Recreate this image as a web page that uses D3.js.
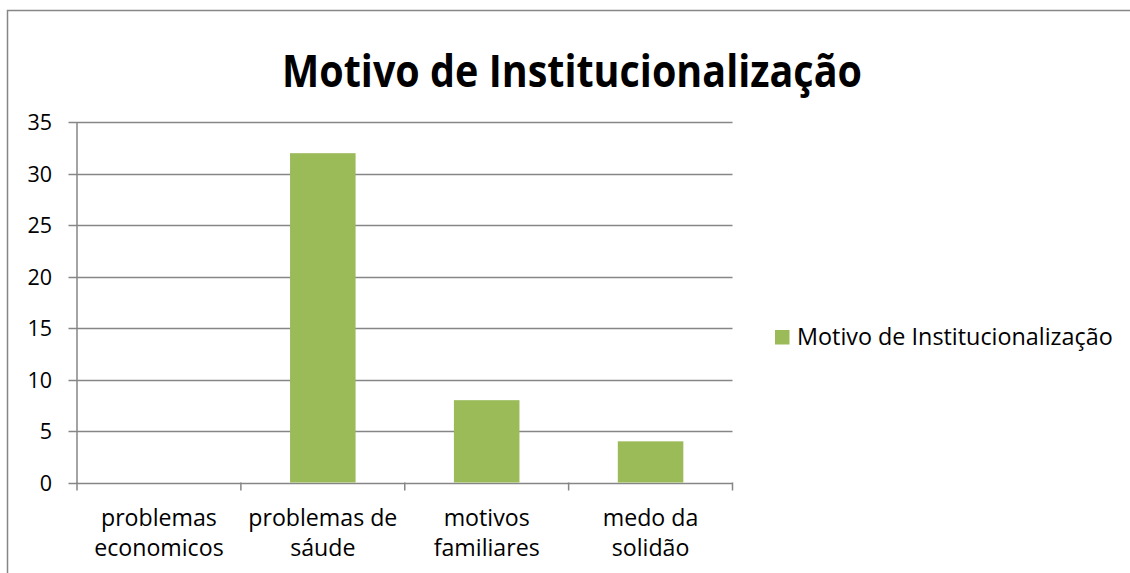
<!DOCTYPE html>
<html><head><meta charset="utf-8">
<script src="https://cdn.jsdelivr.net/npm/d3@7"></script>
<style>html,body{margin:0;padding:0;background:#fff;overflow:hidden}</style>
</head><body>
<svg id="c" width="1130" height="573"></svg>
<script>
const title = "Motivo de Institucionalização";
const seriesName = "Motivo de Institucionalização";
const categories = [["problemas","economicos"],["problemas de","sáude"],["motivos","familiares"],["medo da","solidão"]];
const values = [0, 32, 8, 4];
const yTicks = [0,5,10,15,20,25,30,35];

const FONT = "'Open Sans', 'Noto Sans', sans-serif";
const grid = "#868686";
const barColor = "#9BBB59";
const svg = d3.select("#c");

// chart frame (partially cropped)
svg.append("path").attr("d","M7.5,600 V10.5 H1140").attr("fill","none").attr("stroke",grid).attr("stroke-width",1.5);

const L = 77, R = 732.5, T = 122.3, B = 482.5;
const x = d3.scaleBand().domain(d3.range(categories.length)).range([L,R]).paddingInner(0.6).paddingOuter(0.3);
const xb = d3.scaleLinear().domain([0,categories.length]).range([L,R]);
const y = d3.scaleLinear().domain([0,35]).range([B,T]);

function squash(sel, cx, k){
  sel.attr("transform",`translate(${cx},0) scale(${k},1) translate(${-cx},0)`);
}
function ratio(fs, weight, str, target){
  const p = svg.append("text").attr("font-family",FONT).attr("font-weight",weight).attr("font-size",fs).text(str);
  const w = p.node().getComputedTextLength(); p.remove();
  return target/w;
}

const labelFs = 24.5;
const kLabel = ratio(labelFs, "normal", "problemas", 116);

// gridlines
svg.append("g").selectAll("line").data(yTicks).join("line")
  .attr("x1",L-8.5).attr("x2",R).attr("y1",d=>Math.round(y(d))+0.5).attr("y2",d=>Math.round(y(d))+0.5)
  .attr("stroke",grid).attr("stroke-width",1.3);
// y axis
svg.append("line").attr("x1",L).attr("x2",L).attr("y1",y(35)).attr("y2",B+0.5).attr("stroke",grid).attr("stroke-width",1.5);
// x ticks
svg.append("g").selectAll("line").data(d3.range(categories.length+1)).join("line")
  .attr("x1",d=>xb(d)).attr("x2",d=>xb(d)).attr("y1",B).attr("y2",B+8)
  .attr("stroke",grid).attr("stroke-width",1.5);

// bars
svg.append("g").selectAll("rect").data(values).join("rect")
  .attr("x",(d,i)=>x(i)).attr("width",x.bandwidth())
  .attr("y",d=>y(d)).attr("height",d=>B-y(d)).attr("fill",barColor);

// y labels
svg.append("g").selectAll("text").data(yTicks).join("text")
  .attr("x",52).attr("y",d=>y(d)+8).attr("text-anchor","end")
  .attr("font-family",FONT).attr("font-size",21.5).attr("fill","#000").text(d=>d);

// x labels
svg.append("g").selectAll("text").data(categories).join("text")
  .attr("text-anchor","middle").attr("font-family",FONT).attr("font-size",labelFs).attr("fill","#000")
  .each(function(d,i){
    const t = d3.select(this);
    const cx = x(i)+x.bandwidth()/2;
    d.forEach((line,j)=>t.append("tspan").attr("x",cx).attr("y",526.5+j*30).text(line));
    squash(t, cx, kLabel);
  });

// title
const titleFs = 44;
const tt = svg.append("text").attr("x",572).attr("y",87).attr("text-anchor","middle")
  .attr("font-family",FONT).attr("font-weight","bold").attr("font-size",titleFs).attr("fill","#000").text(title);
squash(tt, 572, ratio(titleFs,"bold",title,580));

// legend
svg.append("rect").attr("x",775).attr("y",330).attr("width",14.5).attr("height",14.5).attr("fill",barColor);
const legFs = 23;
const lt = svg.append("text").attr("x",797).attr("y",345).attr("font-family",FONT).attr("font-size",legFs).attr("fill","#000").text(seriesName);
squash(lt, 797, ratio(legFs,"normal",seriesName,316));
</script>
</body></html>
